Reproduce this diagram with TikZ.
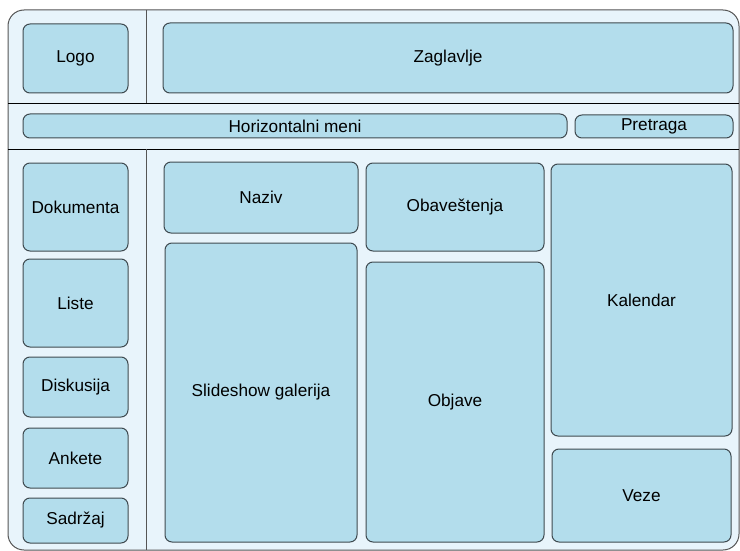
\documentclass[tikz,border=0pt]{standalone}
\usepackage{fontspec}
\setmainfont{Liberation Sans}
\definecolor{pagefill}{HTML}{E8F4FB}
\definecolor{boxfill}{HTML}{B3DDEC}
\definecolor{boxline}{HTML}{3F4A50}
\definecolor{frameline}{HTML}{555555}
\tikzset{
  blk/.style={draw=boxline, fill=boxfill, rounded corners=7pt, line width=1pt,
    inner sep=0pt, font=\fontsize{17.2}{20}\selectfont},
  divider/.style={draw=black, line width=0.9pt},
  vdivider/.style={draw=frameline, line width=1pt}
}
% \blk{name}{x1}{y1}{x2}{y2}{text}: a rounded block between two corners
\newcommand\blk[6]{%
  \node[blk, minimum width={(#4)-(#2)}, minimum height={(#5)-(#3)}]
    (#1) at ({((#2)+(#4))/2},{((#3)+(#5))/2}) {#6};}
\begin{document}
\begin{tikzpicture}[x=1pt, y=-1pt]
  \useasboundingbox (0,0) rectangle (740,551);
  % page frame and its dividers
  \draw[draw=frameline, fill=pagefill, line width=1pt, rounded corners=16pt]
    (8,10) rectangle (739,550);
  \draw[divider] (8,103) -- (739,103);
  \draw[divider] (8,149) -- (739,149);
  \draw[vdivider] (146,10) -- (146,103);
  \draw[vdivider] (146,149) -- (146,550);
  % header
  \blk{logo}{23}{24}{128}{93}{Logo}
  \blk{zaglavlje}{163}{23}{733}{93}{Zaglavlje}
  % menu bar
  \blk{hmeni}{23}{114}{567}{138}{Horizontalni meni}
  \blk{pretraga}{575}{115}{733}{138}{Pretraga}
  % left column
  \blk{dokumenta}{23}{163}{128}{251}{Dokumenta}
  \blk{liste}{23}{259}{128}{347}{Liste}
  \blk{diskusija}{23}{357}{128}{417}{Diskusija}
  \blk{ankete}{23}{428}{128}{488}{Ankete}
  \blk{sadrzaj}{23}{498}{128}{543}{Sadržaj}
  % content area
  \blk{naziv}{164}{162}{358}{233}{Naziv}
  \blk{slideshow}{165}{243}{357}{542}{Slideshow galerija}
  \blk{obavestenja}{366}{163}{544}{251}{Obaveštenja}
  \blk{objave}{366}{262}{544}{542}{Objave}
  \blk{kalendar}{551}{164}{732}{436}{Kalendar}
  \blk{veze}{552}{449}{731}{542}{Veze}
\end{tikzpicture}
\end{document}
